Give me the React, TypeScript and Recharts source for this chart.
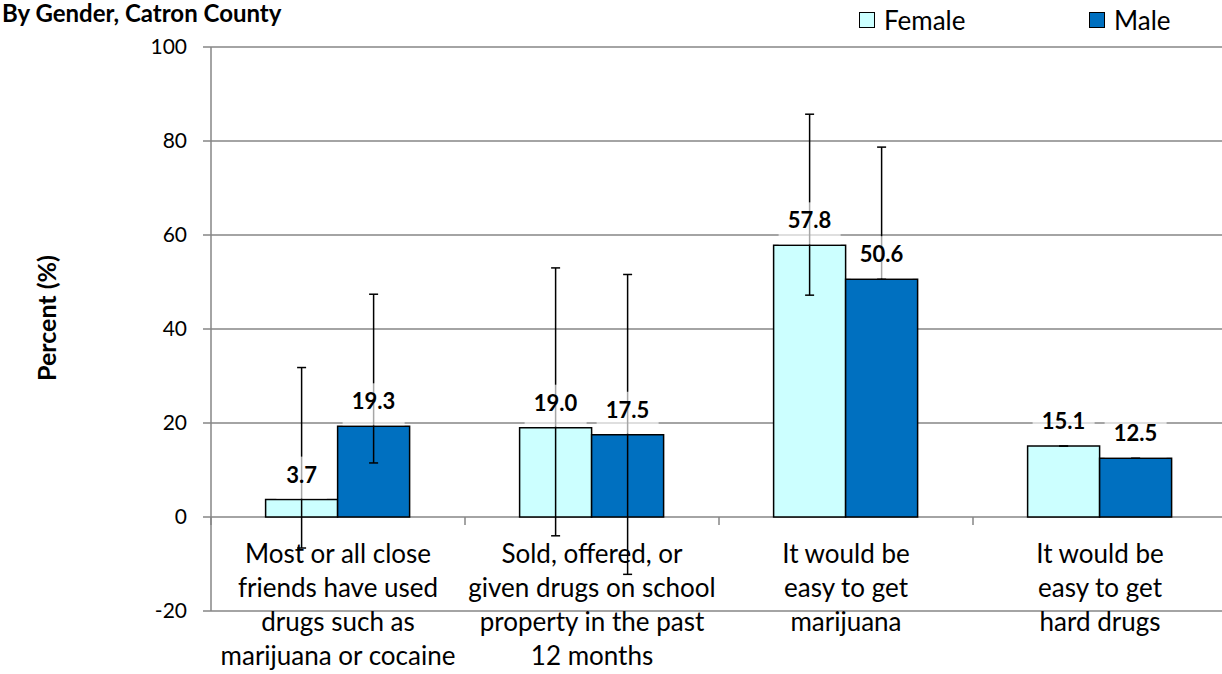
import { Bar, BarChart, CartesianGrid, ErrorBar, LabelList, Legend, XAxis, YAxis } from "recharts";

const categories = [
  "Most or all close\nfriends have used\ndrugs such as\nmarijuana or cocaine",
  "Sold, offered, or\ngiven drugs on school\nproperty in the past\n12 months",
  "It would be\neasy to get\nmarijuana",
  "It would be\neasy to get\nhard drugs",
];
const female = [3.7, 19.0, 57.8, 15.1];
const male = [19.3, 17.5, 50.6, 12.5];
// confidence interval bounds
const femaleLow = [-6.6, -4.0, 47.2, 15.1];
const femaleHigh = [31.8, 53.0, 85.7, 15.1];
const maleLow = [11.5, -12.2, 50.6, 12.5];
const maleHigh = [47.4, 51.6, 78.7, 12.5];
const yTicks = [-20, 0, 20, 40, 60, 80, 100];

const FEMALE_COLOR = "#CCFFFF";
const MALE_COLOR = "#0070C0";
const GRID = "#868686";
const FONT = "Lato, 'Open Sans', sans-serif";

const CHART_W = 1240;
const CHART_H = 674;
const MARGIN = { top: 47, right: 13, bottom: 33, left: 151 };
const X_AXIS_H = 30;
const PLOT_H = CHART_H - MARGIN.top - MARGIN.bottom - X_AXIS_H;
const Y_MIN = -20;
const Y_MAX = 100;
// distance from the bottom of the plot up to the zero line (where the category axis sits)
const ZERO_UP = (PLOT_H * (0 - Y_MIN)) / (Y_MAX - Y_MIN);

const data = categories.map((category, i) => ({
  category,
  female: female[i],
  male: male[i],
  femaleErr: [female[i] - femaleLow[i], femaleHigh[i] - female[i]],
  maleErr: [male[i] - maleLow[i], maleHigh[i] - male[i]],
}));

function CategoryTick(props: any) {
  const { x, y, payload } = props;
  const lines = String(payload.value).split("\n");
  const zeroY = y - ZERO_UP;
  const left = x - (payload.offset ?? 0);
  return (
    <g>
      <line x1={left} y1={zeroY} x2={left} y2={zeroY + 8} stroke={GRID} strokeWidth={1.5} />
      {lines.map((line, i) => (
        <text key={i} x={x} y={zeroY + 46 + i * 34} textAnchor="middle" fontSize={26} fill="#000">
          {line}
        </text>
      ))}
    </g>
  );
}

function ValueLabel(props: any) {
  const { x, y, width, value } = props;
  const cx = Number(x) + Number(width) / 2;
  const top = Number(y);
  const text = Number(value).toFixed(1);
  const w = text.length * 11.5 + 16;
  return (
    <g>
      <rect x={cx - w / 2} y={top - 43} width={w} height={42} fill="#fff" fillOpacity={0.65} />
      <text x={cx} y={top - 17} textAnchor="middle" fontSize={22} fontWeight="bold" fill="#000">
        {text}
      </text>
    </g>
  );
}

function LegendContent({ payload }: any) {
  return (
    <div style={{ display: "flex", fontFamily: FONT, fontSize: 26, lineHeight: "30px" }}>
      {(payload || []).map((entry: any) => (
        <div key={entry.value} style={{ display: "flex", alignItems: "center", width: 230 }}>
          <span
            style={{
              display: "inline-block",
              width: 16,
              height: 16,
              boxSizing: "border-box",
              border: "1px solid #000",
              background: entry.color,
              marginRight: 9,
            }}
          />
          <span>{entry.value}</span>
        </div>
      ))}
    </div>
  );
}

export default function App() {
  return (
    <div
      style={{
        position: "absolute",
        left: 0,
        top: 0,
        width: 1222,
        height: 674,
        overflow: "hidden",
        background: "#fff",
        fontFamily: FONT,
      }}
    >
      <div
        style={{
          position: "absolute",
          left: 2,
          top: 1,
          fontSize: 24,
          lineHeight: "24px",
          fontWeight: "bold",
          whiteSpace: "nowrap",
        }}
      >
        By Gender, Catron County
      </div>
      <div
        style={{
          position: "absolute",
          left: 46,
          top: 318,
          transform: "translate(-50%, -50%) rotate(-90deg)",
          fontSize: 25,
          fontWeight: "bold",
          whiteSpace: "nowrap",
        }}
      >
        Percent (%)
      </div>
      <BarChart
        width={CHART_W}
        height={CHART_H}
        data={data}
        margin={MARGIN}
        barCategoryGap="21.5%"
        barGap={0}
        style={{ fontFamily: FONT }}
      >
        <CartesianGrid vertical={false} stroke={GRID} strokeWidth={1.5} />
        <XAxis
          dataKey="category"
          height={X_AXIS_H}
          interval={0}
          axisLine={false}
          tickLine={false}
          tickSize={0}
          tickMargin={0}
          tick={<CategoryTick />}
        />
        <YAxis
          domain={[Y_MIN, Y_MAX]}
          ticks={yTicks}
          interval={0}
          width={60}
          axisLine={{ stroke: GRID, strokeWidth: 1.5 }}
          tickLine={{ stroke: GRID, strokeWidth: 1.5 }}
          tickSize={8}
          tickMargin={16}
          tick={{ fontSize: 21, fill: "#000" }}
        />
        <Legend
          layout="horizontal"
          verticalAlign="middle"
          align="center"
          content={<LegendContent />}
          wrapperStyle={{ position: "absolute", left: 859, top: 5, width: 480 }}
        />
        <Bar dataKey="female" name="Female" fill={FEMALE_COLOR} stroke="#000" strokeWidth={1.5} isAnimationActive={false}>
          <ErrorBar dataKey="femaleErr" width={4.5} stroke="#000" strokeWidth={1.5} isAnimationActive={false} />
          <LabelList dataKey="female" content={<ValueLabel />} />
        </Bar>
        <Bar dataKey="male" name="Male" fill={MALE_COLOR} stroke="#000" strokeWidth={1.5} isAnimationActive={false}>
          <ErrorBar dataKey="maleErr" width={4.5} stroke="#000" strokeWidth={1.5} isAnimationActive={false} />
          <LabelList dataKey="male" content={<ValueLabel />} />
        </Bar>
      </BarChart>
    </div>
  );
}
